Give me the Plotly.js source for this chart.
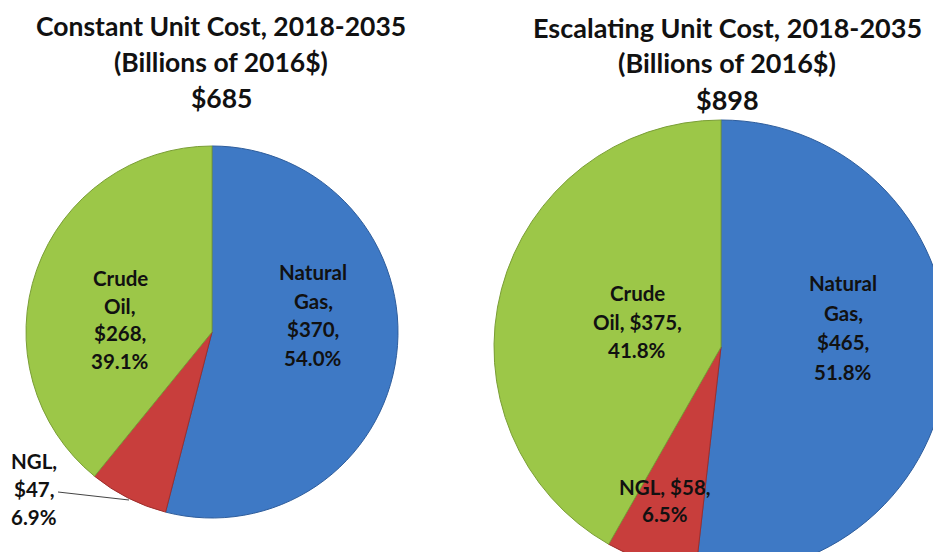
<!DOCTYPE html>
<html>
<head>
<meta charset="utf-8">
<script src="https://cdn.plot.ly/plotly-3.0.1.min.js"></script>
<style>
html,body{margin:0;padding:0;background:#fff;overflow:hidden;}
#chart{width:960px;height:600px;}
</style>
</head>
<body>
<div id="chart"></div>
<script>
// ---- data ----
var categories = ["Natural Gas", "NGL", "Crude Oil"];
var constantValues = [370, 47, 268];
var escalatingValues = [465, 58, 375];
var chartTitles = ["Constant Unit Cost, 2018-2035", "Escalating Unit Cost, 2018-2035"];
var subTitle = "(Billions of 2016$)";

// ---- styling ----
var sliceColors = ["#3E79C5", "#C83E3C", "#9CC748"];
var sliceEdges = ["#2E5D9C", "#9E2E2C", "#7A9E36"];
var FONT = "Lato, 'Open Sans', sans-serif";
var W = 960, H = 600;
function fx(p){ return p / W; }
function fy(p){ return 1 - p / H; }

function sum(a){ return a.reduce(function(s,v){return s+v;},0); }
function pct(v, tot){ return (100*v/tot).toFixed(1) + "%"; }

var totC = sum(constantValues), totE = sum(escalatingValues);

function pieTrace(vals, dom){
  return {
    type: "pie",
    labels: categories,
    values: vals,
    sort: false,
    direction: "clockwise",
    rotation: 0,
    textinfo: "none",
    hoverinfo: "label+value+percent",
    marker: {colors: sliceColors, line: {color: sliceEdges, width: 1}},
    domain: dom,
    showlegend: false
  };
}

var data = [
  pieTrace(constantValues, {x: [fx(26), fx(398)], y: [fy(518), fy(146)]}),
  pieTrace(escalatingValues, {x: [fx(494), fx(948)], y: [fy(574), fy(120)]})
];

var annotations = [];
function addLines(lines, cx, y0, dy, size){
  lines.forEach(function(t, i){
    annotations.push({
      xref: "paper", yref: "paper",
      x: fx(cx), y: fy(y0 + i*dy),
      xanchor: "center", yanchor: "middle",
      text: "<b>" + t + "</b>", showarrow: false,
      font: {family: FONT, size: size, color: "#111111"}
    });
  });
}

// titles
addLines([chartTitles[0], subTitle, "$" + totC], 221, 26, 36, 26.5);
addLines([chartTitles[1], subTitle, "$" + totE], 727, 27, 36, 27);

// left labels
var c = constantValues;
addLines(["Natural", "Gas,", "$" + c[0] + ",", pct(c[0], totC)], 313, 272, 28.5, 20.5);
addLines(["Crude", "Oil,", "$" + c[2] + ",", pct(c[2], totC)], 120, 278, 27.5, 20.5);
addLines(["NGL,", "$" + c[1] + ",", pct(c[1], totC)], 34, 461, 28, 20.5);

// right labels
var e = escalatingValues;
addLines(["Natural", "Gas,", "$" + e[0] + ",", pct(e[0], totE)], 843, 283, 29.7, 20.5);
addLines(["Crude", "Oil, $" + e[2] + ",", pct(e[2], totE)], 637, 293, 28.5, 20.5);
addLines(["NGL, $" + e[1] + ",", pct(e[1], totE)], 665, 487, 27, 20.5);

var layout = {
  width: W, height: H,
  margin: {l: 0, r: 0, t: 0, b: 0},
  paper_bgcolor: "#ffffff",
  plot_bgcolor: "#ffffff",
  showlegend: false,
  annotations: annotations,
  shapes: [{
    type: "line", xref: "paper", yref: "paper",
    x0: fx(58), y0: fy(492), x1: fx(129), y1: fy(500),
    line: {color: "#444444", width: 1}
  }]
};

Plotly.newPlot("chart", data, layout, {displayModeBar: false, staticPlot: true});
</script>
</body>
</html>
